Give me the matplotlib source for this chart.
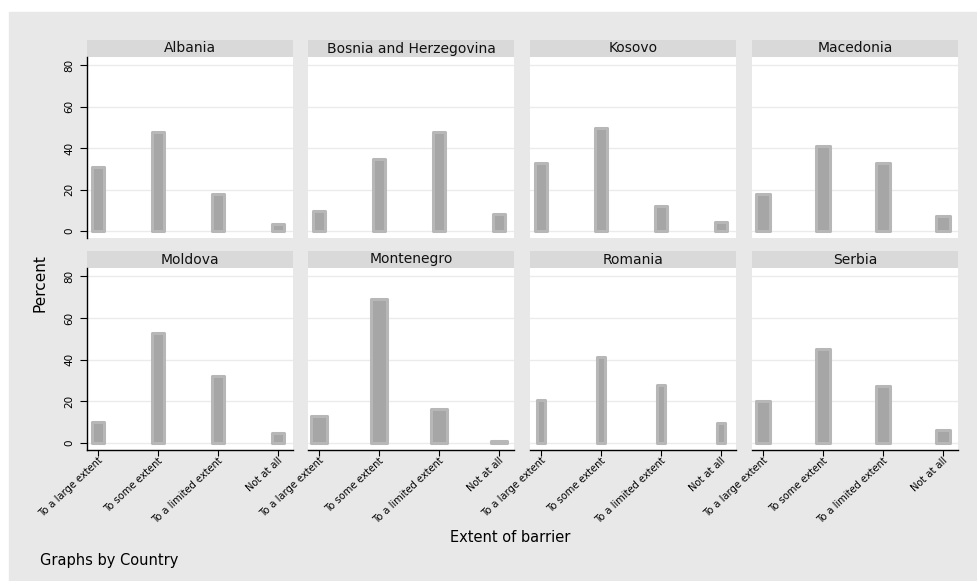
import matplotlib.pyplot as plt
from matplotlib.patches import Rectangle

# data (percent of respondents)
countries = ["Albania", "Bosnia and Herzegovina", "Kosovo", "Macedonia",
             "Moldova", "Montenegro", "Romania", "Serbia"]
categories = ["To a large extent", "To some extent", "To a limited extent", "Not at all"]

albania = [31, 48, 18, 3.6]
bosnia = [9.4, 34.6, 48, 8.1]
kosovo = [32.8, 49.7, 12, 4.1]
macedonia = [17.8, 41, 33, 7.2]
moldova = [10, 53, 32, 5]
montenegro = [13, 69.2, 16.5, 0.8]
romania = [20.7, 41.5, 27.7, 9.7]
serbia = [20.2, 45.3, 27.2, 6.2]

values = [albania, bosnia, kosovo, macedonia, moldova, montenegro, romania, serbia]

# bar widths differ a little per panel in the original
bar_w = [0.19, 0.215, 0.2, 0.22, 0.2, 0.26, 0.12, 0.235]

W, H = 978, 581
fig = plt.figure(figsize=(W / 100, H / 100), dpi=100)
fig.patch.set_facecolor("white")
fig.add_artist(Rectangle((9 / W, 0), 1, 1 - 12 / H, transform=fig.transFigure,
                         color="#e8e8e8", zorder=-10))

col_left = [87, 308, 530, 752]
pw = 206
row_top = [57, 268]
ph = [181, 182]
strip_h = 17

xpos = [1, 2, 3, 4]

for i, country in enumerate(countries):
    r, c = divmod(i, 4)
    ax = fig.add_axes([col_left[c] / W, 1 - (row_top[r] + ph[r]) / H, pw / W, ph[r] / H])
    ax.set_facecolor("white")
    ax.bar(xpos, values[i], width=bar_w[i], color="#a6a6a6", edgecolor="#b7b7b7",
           linewidth=2.2, joinstyle="round", zorder=3)
    ax.set_xlim(0.817, 4.25)
    ax.set_ylim(-3.4, 84)
    ax.set_yticks([0, 20, 40, 60, 80])
    ax.yaxis.grid(True, color="#ebebeb", linewidth=1)
    ax.set_axisbelow(True)
    for s in ax.spines.values():
        s.set_visible(False)

    if c == 0:
        ax.spines["left"].set_visible(True)
        ax.spines["left"].set_color("black")
        ax.spines["left"].set_linewidth(1)
        ax.tick_params(axis="y", length=5, width=0.8, labelsize=7.5, pad=4)
        for lab in ax.get_yticklabels():
            lab.set_rotation(90)
            lab.set_va("center")
    else:
        ax.tick_params(axis="y", left=False, labelleft=False)

    ax.set_xticks(xpos)
    if r == 1:
        ax.spines["bottom"].set_visible(True)
        ax.spines["bottom"].set_color("black")
        ax.spines["bottom"].set_linewidth(1)
        ax.tick_params(axis="x", length=4, width=0.8, pad=0)
        ax.set_xticklabels(categories, rotation=43, ha="right", va="top",
                           rotation_mode="anchor", fontsize=7.1)
    else:
        ax.tick_params(axis="x", bottom=False, labelbottom=False)

    # strip title
    ax.add_patch(Rectangle((0, 1), 1, strip_h / ph[r], transform=ax.transAxes,
                           facecolor="#d9d9d9", edgecolor="none", clip_on=False))
    ax.text(0.5, 1 + strip_h / ph[r] / 2, country, transform=ax.transAxes,
            ha="center", va="center", fontsize=10, color="#111111")

fig.text(40 / W, 1 - 283 / H, "Percent", rotation=90, ha="center", va="center", fontsize=11)
fig.text(510 / W, 1 - 537 / H, "Extent of barrier", ha="center", va="center", fontsize=10.5)
fig.text(40 / W, 1 - 560 / H, "Graphs by Country", ha="left", va="center", fontsize=10.5)

fig.savefig("out.png", dpi=100)
